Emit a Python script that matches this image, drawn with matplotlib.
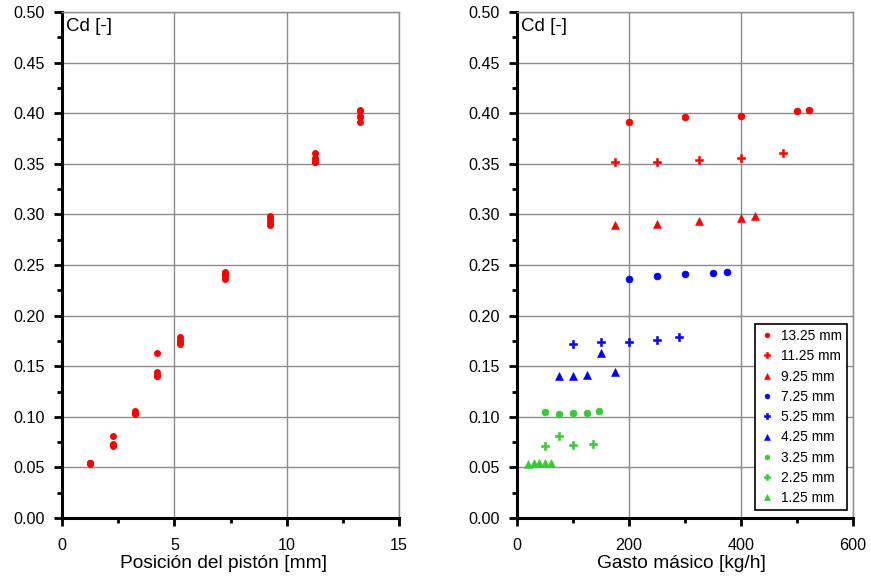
import matplotlib
matplotlib.use("Agg")
import matplotlib.pyplot as plt
from matplotlib.ticker import MultipleLocator

plt.rcParams['font.family'] = ['Liberation Sans', 'DejaVu Sans']

# Series: piston position [mm] -> (mass flow [kg/h], Cd)
labels = ["13.25 mm", "11.25 mm", "9.25 mm", "7.25 mm", "5.25 mm",
          "4.25 mm", "3.25 mm", "2.25 mm", "1.25 mm"]
positions = [13.25, 11.25, 9.25, 7.25, 5.25, 4.25, 3.25, 2.25, 1.25]

flow_1325 = [200, 300, 400, 500, 522]
cd_1325 = [0.391, 0.396, 0.397, 0.402, 0.403]
flow_1125 = [175, 250, 325, 400, 475]
cd_1125 = [0.352, 0.352, 0.354, 0.356, 0.361]
flow_925 = [175, 250, 325, 400, 425]
cd_925 = [0.290, 0.291, 0.293, 0.296, 0.298]
flow_725 = [200, 250, 300, 350, 375]
cd_725 = [0.236, 0.239, 0.241, 0.242, 0.243]
flow_525 = [100, 150, 200, 250, 290]
cd_525 = [0.172, 0.174, 0.174, 0.176, 0.179]
flow_425 = [75, 100, 125, 150, 175]
cd_425 = [0.140, 0.140, 0.141, 0.163, 0.144]
flow_325 = [50, 75, 100, 125, 147]
cd_325 = [0.105, 0.103, 0.104, 0.104, 0.106]
flow_225 = [50, 75, 100, 135]
cd_225 = [0.071, 0.081, 0.072, 0.073]
flow_125 = [20, 30, 40, 50, 60]
cd_125 = [0.053, 0.054, 0.054, 0.054, 0.054]

flows = [flow_1325, flow_1125, flow_925, flow_725, flow_525,
         flow_425, flow_325, flow_225, flow_125]
cds = [cd_1325, cd_1125, cd_925, cd_725, cd_525,
       cd_425, cd_325, cd_225, cd_125]

RED, BLUE, GREEN = '#ff0000', '#0000ff', '#33cc33'
colors = [RED, RED, RED, BLUE, BLUE, BLUE, GREEN, GREEN, GREEN]
markers = ['o', 'P', '^', 'o', 'P', '^', 'o', 'P', '^']
msizes = [5.0, 5.4, 5.6, 5.0, 5.4, 5.6, 5.0, 5.4, 5.6]

fig = plt.figure(figsize=(8.71, 5.78), dpi=100)
W, H = 871, 578
ax1 = fig.add_axes([62 / W, (H - 518) / H, (399 - 62) / W, (518 - 12) / H])
ax2 = fig.add_axes([517 / W, (H - 518) / H, (853 - 517) / W, (518 - 12) / H])


def style(ax, xmax, xmajor, xminor):
    ax.set_xlim(0, xmax)
    ax.set_ylim(0, 0.5)
    ax.xaxis.set_major_locator(MultipleLocator(xmajor))
    ax.xaxis.set_minor_locator(MultipleLocator(xminor))
    ax.yaxis.set_major_locator(MultipleLocator(0.05))
    ax.yaxis.set_minor_locator(MultipleLocator(0.025))
    ax.yaxis.set_major_formatter(plt.FuncFormatter(lambda v, p: f"{v:.2f}"))
    ax.grid(True, which='major', color='#8c8c8c', linewidth=1.0)
    ax.set_axisbelow(True)
    for s in ['left', 'bottom']:
        ax.spines[s].set_linewidth(2.2)
        ax.spines[s].set_color('black')
    for s in ['top', 'right']:
        ax.spines[s].set_linewidth(1.0)
        ax.spines[s].set_color('#8c8c8c')
    ax.tick_params(which='major', direction='out', length=5.8, width=2.0,
                   labelsize=11.6, top=False, right=False)
    ax.tick_params(which='minor', direction='out', length=3.6, width=2.0,
                   top=False, right=False)
    ax.tick_params(axis='x', which='major', pad=8.4)
    ax.tick_params(axis='y', which='major', pad=6.5)
    ax.text(0.012, 0.988, "Cd [-]", transform=ax.transAxes, ha='left',
            va='top', fontsize=13.5)


style(ax1, 15, 5, 2.5)
style(ax2, 600, 200, 100)

# Left panel: Cd vs piston position
for pos, cd in zip(positions, cds):
    ax1.plot([pos] * len(cd), cd, linestyle='none', marker='o',
             color=RED, markersize=5.0, markeredgewidth=0, clip_on=False)
ax1.set_xlabel("Posición del pistón [mm]", fontsize=13.8, labelpad=2, x=0.479)

# Right panel: Cd vs mass flow
for fl, cd, c, m, ms, lab in zip(flows, cds, colors, markers, msizes, labels):
    ax2.plot(fl, cd, linestyle='none', marker=m, color=c, markersize=ms,
             markeredgewidth=0.4, markeredgecolor=c, label=lab)
ax2.set_xlabel("Gasto másico [kg/h]", fontsize=13.8, labelpad=2, x=0.488)

leg = ax2.legend(loc='lower right', bbox_to_anchor=(0.983, 0.016),
                 fontsize=9.9, frameon=True, fancybox=False,
                 markerscale=0.7, handlelength=1.1, handletextpad=0.5,
                 labelspacing=0.455, borderpad=0.35, borderaxespad=0)
leg.get_frame().set_edgecolor('black')
leg.get_frame().set_linewidth(1.2)
leg.get_frame().set_alpha(1)

fig.savefig("out.png", dpi=100)
